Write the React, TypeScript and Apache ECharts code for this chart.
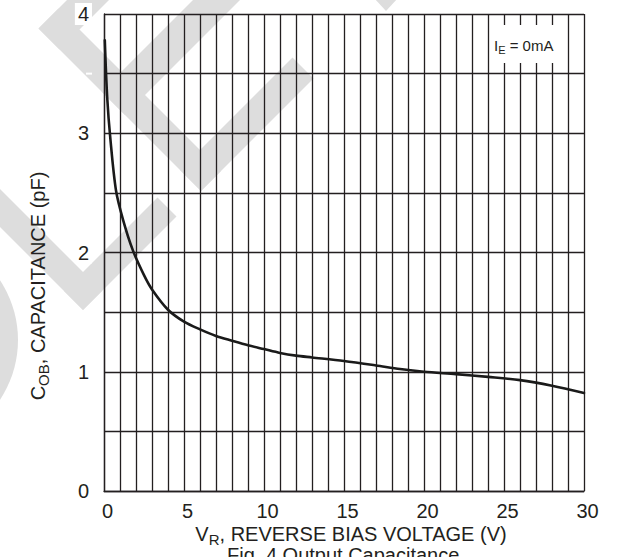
import React, { useEffect, useRef } from "react";
import * as echarts from "echarts";

// Reverse bias voltage (V) and output capacitance (pF)
const voltage = [0.05, 0.2, 0.4, 0.75, 1.2, 1.8, 2.5, 3, 4, 5, 6, 7, 8, 9, 10, 11, 12, 13, 15, 17, 18.5, 20, 22, 24, 26, 28, 30];
const capacitance = [3.78, 3.3, 2.95, 2.52, 2.27, 2.02, 1.81, 1.69, 1.52, 1.42, 1.355, 1.3, 1.26, 1.222, 1.19, 1.158, 1.135, 1.12, 1.09, 1.053, 1.023, 1.0, 0.98, 0.957, 0.93, 0.883, 0.822];
const xTickLabels = [0, 5, 10, 15, 20, 25, 30];
const yTickLabels = [0, 1, 2, 3, 4];

const INK = "#231f20";
const WM = "#dddddd";
const FONT = "'Liberation Sans', Arial, sans-serif";

export default function App() {
  const ref = useRef<HTMLDivElement>(null);
  useEffect(() => {
    if (!ref.current) return;
    const chart = echarts.init(ref.current, null, { renderer: "svg" });
    const wmPoly = (points: number[][]) => ({
      type: "polygon",
      z: -10,
      silent: true,
      shape: { points },
      style: { fill: WM },
    });
    chart.setOption({
      animation: false,
      backgroundColor: "#ffffff",
      textStyle: { fontFamily: FONT },
      grid: { left: 104, right: 42, top: 14, bottom: 66, containLabel: false },
      xAxis: {
        type: "value",
        min: 0,
        max: 30,
        interval: 1,
        axisLine: { show: true, lineStyle: { color: INK, width: 1.3 } },
        axisTick: { show: false },
        axisLabel: {
          color: INK,
          fontSize: 20,
          fontFamily: FONT,
          margin: 10,
          padding: [0, 0, 0, 7],
          formatter: (v: number) => (xTickLabels.includes(v) ? String(v) : ""),
        },
        splitLine: { show: true, lineStyle: { color: INK, width: 1.3 } },
      },
      yAxis: {
        type: "value",
        min: 0,
        max: 4,
        interval: 0.5,
        axisLine: { show: true, lineStyle: { color: INK, width: 1.3 } },
        axisTick: { show: false },
        axisLabel: {
          color: INK,
          fontSize: 20,
          fontFamily: FONT,
          margin: 12,
          backgroundColor: "#ffffff",
          padding: [1, 3, 1, 3],
          formatter: (v: number) => (yTickLabels.includes(v) ? String(v) : ""),
        },
        splitLine: { show: true, lineStyle: { color: INK, width: 1.3 } },
      },
      series: [
        {
          type: "line",
          data: voltage.map((v, i) => [v, capacitance[i]]),
          smooth: 0.3,
          symbol: "none",
          lineStyle: { color: "#1a1a1a", width: 2.6, cap: "round", join: "round" },
          z: 5,
        },
      ],
      graphic: [
        // watermark
        wmPoly([[38.5, 28.5], [58.5, 8.5], [221, 171], [201, 191]]),
        wmPoly([[38.5, 28.5], [59.5, 49.5], [204.5, -95.5], [183.5, -116.5]]),
        wmPoly([[101.5, 91.5], [125, 115], [320, -80], [296.5, -103.5]]),
        wmPoly([[201, 191], [313.5, 78.5], [292.5, 57.5], [180, 170]]),
        wmPoly([[374, -2], [398, -2], [386, 11]]),
        wmPoly([[83, 310], [176.5, 216.5], [157.5, 197.5], [64, 291]]),
        wmPoly([[83, 310], [102, 291], [-144.5, 44.5], [-163.5, 63.5]]),
        { type: "circle", z: -10, silent: true, shape: { cx: -90, cy: 340, r: 108 }, style: { fill: WM } },
        // annotation box
        {
          type: "rect",
          z: 50,
          shape: { x: 490, y: 25, width: 70, height: 38 },
          style: { fill: "#ffffff" },
        },
        {
          type: "text",
          z: 51,
          x: 494,
          y: 45,
          style: {
            text: "{m|I}{s|E}{m| = 0mA}",
            textVerticalAlign: "middle",
            fill: INK,
            rich: {
              m: { fontSize: 15, fontFamily: FONT, lineHeight: 20, verticalAlign: "middle", fill: INK },
              s: { fontSize: 11, fontFamily: FONT, lineHeight: 11, verticalAlign: "bottom", fill: INK },
            },
          },
        },
        // x axis name
        {
          type: "text",
          z: 20,
          x: 351,
          y: 534,
          style: {
            text: "{m|V}{s|R}{m|, REVERSE BIAS VOLTAGE (V)}",
            textAlign: "center",
            textVerticalAlign: "middle",
            fill: INK,
            rich: {
              m: { fontSize: 20, fontFamily: FONT, lineHeight: 26, verticalAlign: "middle", fill: INK },
              s: { fontSize: 15, fontFamily: FONT, lineHeight: 15, verticalAlign: "bottom", fill: INK },
            },
          },
        },
        // y axis name
        {
          type: "text",
          z: 20,
          x: 38,
          y: 286,
          rotation: Math.PI / 2,
          style: {
            text: "{m|C}{s|OB}{m|, CAPACITANCE (pF)}",
            textAlign: "center",
            textVerticalAlign: "middle",
            fill: INK,
            rich: {
              m: { fontSize: 20, fontFamily: FONT, lineHeight: 26, verticalAlign: "middle", fill: INK },
              s: { fontSize: 15, fontFamily: FONT, lineHeight: 15, verticalAlign: "bottom", fill: INK },
            },
          },
        },
        // caption (cut off at the bottom edge, as in the reference)
        {
          type: "text",
          z: 20,
          x: 227,
          y: 545,
          style: {
            text: "Fig. 4 Output Capacitance",
            textVerticalAlign: "top",
            fontSize: 20,
            fontFamily: FONT,
            fill: INK,
          },
        },
      ],
    });
    return () => chart.dispose();
  }, []);
  return <div ref={ref} style={{ width: 626, height: 557, position: "absolute", left: 0, top: 0 }} />;
}
